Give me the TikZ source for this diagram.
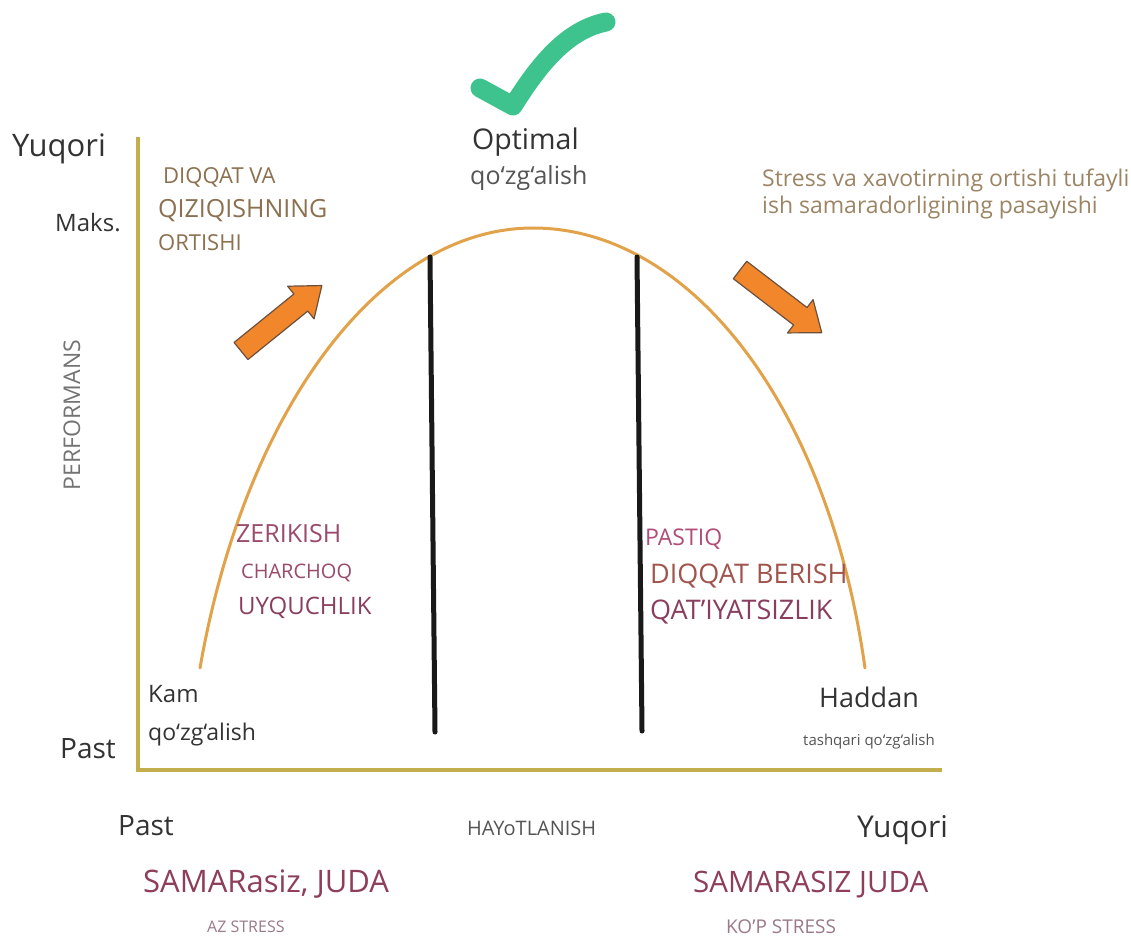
\documentclass[tikz,border=0pt]{standalone}
\usepackage{fontspec}
\setmainfont{Open Sans}
\usetikzlibrary{calc}
\definecolor{axiscol}{HTML}{C2AE4C}
\definecolor{curvecol}{HTML}{E2A24A}
\definecolor{arrfill}{HTML}{F2862A}
\definecolor{arrdraw}{HTML}{6B5040}
\definecolor{checkcol}{HTML}{3EC38F}
\definecolor{dark}{HTML}{333333}
\definecolor{midgray}{HTML}{555555}
\definecolor{olivebrown}{HTML}{8C7150}
\definecolor{tan}{HTML}{9C8565}
\definecolor{mauve}{HTML}{9A4A6C}
\definecolor{plum}{HTML}{8A3E5F}
\definecolor{pinkish}{HTML}{B04C78}
\definecolor{brickred}{HTML}{A0544C}
\definecolor{wine}{HTML}{8E3E58}
\definecolor{lightwine}{HTML}{9A7A8A}
\newcommand{\fs}[1]{\fontsize{#1}{#1}\selectfont}
\begin{document}
\begin{tikzpicture}[x=1pt,y=-1pt,
  lbl/.style={inner sep=0pt,anchor=base west},
  axisline/.style={draw=axiscol,line width=4pt},
  bell/.style={draw=curvecol,line width=3pt,line cap=round},
  divider/.style={draw=black!90,line width=5pt,line cap=round},
  fatarrow/.style={fill=arrfill,draw=arrdraw,line width=1.2pt,line join=round},
  checkmark/.style={draw=checkcol,line width=19pt,line cap=round,line join=round}]
\useasboundingbox (0,0) rectangle (1131,941);
\fill[white] (0,0) rectangle (1131,941);

% axes
\coordinate (ytop) at (138,137);
\coordinate (origin) at (138,770);
\coordinate (xend) at (942,770);
\draw[axisline] (ytop) -- (origin) -- (xend);

% bell curve
\coordinate (cstart) at (200,668);
\coordinate (cpeak) at (533,228);
\coordinate (cend) at (865,668);
\draw[bell] (cstart) .. controls (245,410) and (380,228) .. (cpeak)
  .. controls (690,228) and (828,405) .. (cend);

% dividers
\coordinate (d1t) at (430,257); \coordinate (d1b) at (435,732);
\coordinate (d2t) at (637,257); \coordinate (d2b) at (642,731);
\draw[divider] (d1t) -- (d1b);
\draw[divider] (d2t) -- (d2b);

% arrows
\begin{scope}[shift={(241,351)},rotate=39]
\draw[fatarrow] (0,-11) -- (77,-11) -- (77,-21) -- (104,0) -- (77,21) -- (77,11) -- (0,11) -- cycle;
\end{scope}
\begin{scope}[shift={(740,270)},rotate=-37.5]
\draw[fatarrow] (0,-11) -- (76,-11) -- (76,-21) -- (103,0) -- (76,21) -- (76,11) -- (0,11) -- cycle;
\end{scope}

% check mark
\coordinate (c1) at (480,88); \coordinate (c2) at (513,106); \coordinate (c3) at (606,22);
\draw[checkmark] (c1) -- (c2) .. controls (538,66) and (566,30) .. (c3);

% texts
\node[lbl,text=dark] (yq) at (12,157) {\fs{31}Yuqori};
\node[lbl,text=dark] (maks) at (55,232) {\fs{24}Maks.};
\node[text=gray!90!black,rotate=90,inner sep=0pt] (perf) at (72,415) {\fs{23}PERFORMANS};
\node[lbl,text=dark] (pastl) at (60,758) {\fs{28}Past};

\node[lbl,text=olivebrown] (t1) at (163,184) {\fs{22}DIQQAT VA};
\node[lbl,text=olivebrown] (t2) at (158,218) {\fs{25}QIZIQISHNING};
\node[lbl,text=olivebrown] (t3) at (158,250) {\fs{22}ORTISHI};

\node[lbl,text=dark] (opt) at (472,150) {\fs{28.5}Optimal};
\node[lbl,text=midgray] (optq) at (470,185) {\fs{25}qo‘zg‘alish};

\node[lbl,text=tan] (s1) at (762,187) {\fs{23}Stress va xavotirning ortishi tufayli};
\node[lbl,text=tan] (s2) at (762,214) {\fs{23}ish samaradorligining pasayishi};

\node[lbl,text=mauve] (z1) at (236,542) {\fs{25}ZERIKISH};
\node[lbl,text=mauve] (z2) at (241,578) {\fs{20}CHARCHOQ};
\node[lbl,text=plum] (z3) at (238,614) {\fs{24}UYQUCHLIK};

\node[lbl,text=dark] (kam) at (148,702) {\fs{24}Kam};
\node[lbl,text=dark] (kamq) at (148,740) {\fs{23}qo‘zg‘alish};

\node[lbl,text=pinkish] (p1) at (645,545) {\fs{23}PASTIQ};
\node[lbl,text=brickred] (p2) at (650,583) {\fs{27}DIQQAT BERISH};
\node[lbl,text=plum] (p3) at (650,619) {\fs{27}QAT’IYATSIZLIK};

\node[lbl,text=dark] (had) at (819,707) {\fs{27}Haddan};
\node[lbl,text=midgray] (hadq) at (803,745) {\fs{15}tashqari qo‘zg‘alish};

\node[lbl,text=dark] (pastb) at (118,835) {\fs{28}Past};
\node[lbl,text=midgray] (hay) at (467,835) {\fs{20}HAYoTLANISH};
\node[lbl,text=dark] (yqb) at (857,837) {\fs{30}Yuqori};

\node[lbl,text=wine] (sam1) at (143,892) {\fs{31}SAMARasiz, JUDA};
\node[lbl,text=lightwine] (az) at (207,932) {\fs{16}AZ STRESS};
\node[lbl,text=wine] (sam2) at (693,892) {\fs{29.5}SAMARASIZ JUDA};
\node[lbl,text=lightwine] (kop) at (726,933) {\fs{19}KO’P STRESS};
\end{tikzpicture}
\end{document}
